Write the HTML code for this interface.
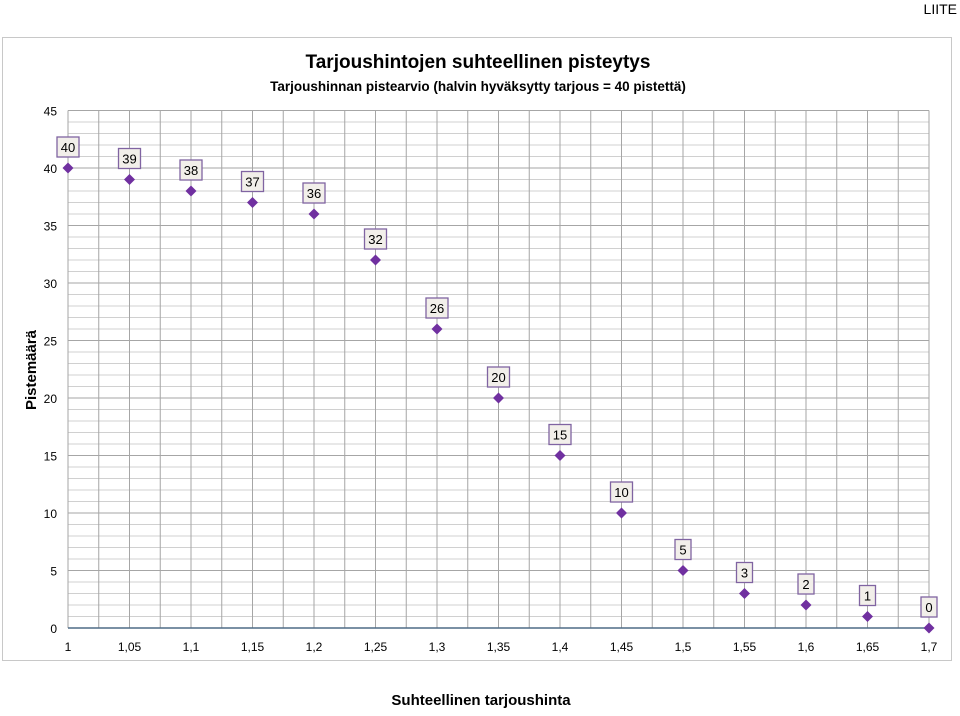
<!DOCTYPE html>
<html><head><meta charset="utf-8"><style>
body{margin:0;background:#fff;width:960px;height:711px;overflow:hidden;font-family:"Liberation Sans",sans-serif}
</style></head><body>
<svg width="960" height="711" xmlns="http://www.w3.org/2000/svg">
<text x="957" y="14" text-anchor="end" font-size="14">LIITE</text>
<rect x="2.5" y="37.5" width="949" height="623" fill="#fff" stroke="#c8c8c8"/>
<text x="478" y="68" text-anchor="middle" font-size="19" font-weight="bold">Tarjoushintojen suhteellinen pisteytys</text>
<text x="478" y="91" text-anchor="middle" font-size="13.5" font-weight="bold">Tarjoushinnan pistearvio (halvin hyväksytty tarjous = 40 pistettä)</text>
<text transform="translate(36,370) rotate(-90)" text-anchor="middle" font-size="15" font-weight="bold">Pistemäärä</text>
<text x="481" y="705" text-anchor="middle" font-size="15" font-weight="bold">Suhteellinen tarjoushinta</text>
<g id="grid"></g><g id="axes"></g><g id="marks"></g>
</svg>
<script>
const xValues=[1,1.05,1.1,1.15,1.2,1.25,1.3,1.35,1.4,1.45,1.5,1.55,1.6,1.65,1.7];
const yValues=[40,39,38,37,36,32,26,20,15,10,5,3,2,1,0];
const yTicks=[0,5,10,15,20,25,30,35,40,45];
const xTickLabels=["1","1,05","1,1","1,15","1,2","1,25","1,3","1,35","1,4","1,45","1,5","1,55","1,6","1,65","1,7"];
const NS="http://www.w3.org/2000/svg";
const X0=68,X1=929,Y0=628,Y1=110.5;
const sx=v=>X0+(v-1)/(0.7)*(X1-X0);
const sy=v=>Y0-v/45*(Y0-Y1);
function mk(tag,attrs,parent,txt){const e=document.createElementNS(NS,tag);for(const k in attrs)e.setAttribute(k,attrs[k]);if(txt!==undefined)e.textContent=txt;document.getElementById(parent).appendChild(e);return e;}
for(let i=0;i<=45;i++){const y=sy(i);const l=mk('line',{x1:X0,x2:X1,y1:y,y2:y,stroke:i%5==0?'#a6a6a6':'#d0d0d0','stroke-width':1},'grid');

}
for(let i=0;i<=28;i++){const x=sx(1+i*0.025);const l=mk('line',{x1:x,x2:x,y1:Y1,y2:Y0,stroke:'#a6a6a6','stroke-width':1},'grid');

}
const ax=mk('line',{x1:X0,x2:X1,y1:Y0,y2:Y0,stroke:'#4f6b86','stroke-width':1.5},'axes');


yTicks.forEach(t=>{const e=mk('text',{x:57,y:sy(t)+5,'text-anchor':'end','font-size':12},'axes',String(t));

});
xValues.forEach((v,i)=>{const e=mk('text',{x:sx(v),y:651,'text-anchor':'middle','font-size':12},'axes',xTickLabels[i]);

});
xValues.forEach((v,i)=>{const x=sx(v),y=sy(yValues[i]);
const p=mk('polygon',{points:`${x},${y-5.5} ${x+5.5},${y} ${x},${y+5.5} ${x-5.5},${y}`,fill:'#7030a0'},'marks');


const s=String(yValues[i]);const w=s.length>1?22:16;
const r=mk('rect',{x:x-w/2,y:y-31,width:w,height:20,fill:'#f2efea',stroke:'#8064a2','stroke-width':1.3},'marks');


const t=mk('text',{x:x,y:y-16,'text-anchor':'middle','font-size':13},'marks',s);

});
</script>
</body></html>
